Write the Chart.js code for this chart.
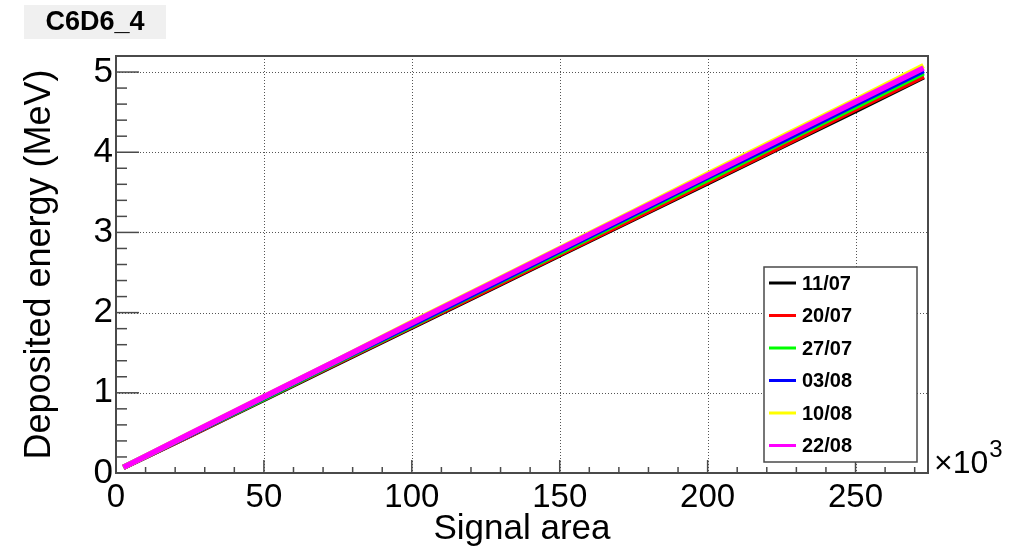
<!DOCTYPE html>
<html>
<head>
<meta charset="utf-8">
<script src="https://cdn.jsdelivr.net/npm/chart.js@4.4.0/dist/chart.umd.min.js"></script>
<style>
  html, body { margin: 0; padding: 0; background: #ffffff; }
  canvas { display: block; }
</style>
</head>
<body>
<canvas id="c" width="1018" height="547"></canvas>
<script>
// Signal area in units of 10^3
const signalArea = [2.5, 25, 50, 75, 100, 125, 150, 175, 200, 225, 250, 273];

// Deposited energy (MeV) for each calibration run
const run_11_07 = [0.07, 0.47, 0.92, 1.37, 1.82, 2.27, 2.72, 3.17, 3.62, 4.07, 4.52, 4.94];
const run_20_07 = [0.07, 0.47, 0.93, 1.38, 1.83, 2.28, 2.73, 3.18, 3.63, 4.08, 4.54, 4.95];
const run_27_07 = [0.07, 0.48, 0.93, 1.39, 1.84, 2.30, 2.75, 3.21, 3.66, 4.12, 4.57, 4.99];
const run_03_08 = [0.07, 0.48, 0.94, 1.40, 1.85, 2.31, 2.77, 3.23, 3.69, 4.14, 4.60, 5.02];
const run_10_08 = [0.07, 0.49, 0.95, 1.41, 1.88, 2.34, 2.80, 3.26, 3.73, 4.19, 4.65, 5.08];
const run_22_08 = [0.07, 0.49, 0.95, 1.41, 1.87, 2.33, 2.79, 3.25, 3.71, 4.17, 4.63, 5.05];

const runLabels = ['11/07', '20/07', '27/07', '03/08', '10/08', '22/08'];
const runValues = [run_11_07, run_20_07, run_27_07, run_03_08, run_10_08, run_22_08];
const runColors = ['#000000', '#ff0000', '#00ff00', '#0000ff', '#ffff00', '#ff00ff'];
// later runs are painted on top of earlier ones (lower order = drawn last)
const drawOrder = [6, 5, 4, 3, 2, 1];

const xStep = 50, xMinorStep = 10, xMax = 274.5;
const yStep = 1, yMinorStep = 0.2, yMax = 5.2;

const FONT = '"Liberation Sans", Arial, Helvetica, sans-serif';
const FRAME = '#4a4a4a';

const datasets = runLabels.map((lab, i) => ({
  label: lab,
  data: signalArea.map((x, j) => ({ x: x, y: runValues[i][j] })),
  borderColor: runColors[i],
  backgroundColor: runColors[i],
  borderWidth: 5.5,
  pointRadius: 0,
  tension: 0,
  fill: false,
  order: drawOrder[i]
}));

// dotted grid under the curves
const gridPlugin = {
  id: 'rootGrid',
  beforeDatasetsDraw(chart) {
    const { ctx, chartArea: a, scales: { x, y } } = chart;
    ctx.save();
    ctx.strokeStyle = '#555555';
    ctx.lineWidth = 1;
    ctx.setLineDash([1, 2]);
    x.ticks.forEach(t => {
      const px = Math.round(x.getPixelForValue(t.value)) + 0.5;
      if (px <= a.left + 1 || px >= a.right - 1) return;
      ctx.beginPath(); ctx.moveTo(px, a.top); ctx.lineTo(px, a.bottom); ctx.stroke();
    });
    y.ticks.forEach(t => {
      const py = Math.round(y.getPixelForValue(t.value)) + 0.5;
      if (py <= a.top + 1 || py >= a.bottom - 1) return;
      ctx.beginPath(); ctx.moveTo(a.left, py); ctx.lineTo(a.right, py); ctx.stroke();
    });
    ctx.restore();
  }
};

// frame, inner tick marks, exponent, title box and legend
const decorPlugin = {
  id: 'rootDecor',
  afterDatasetsDraw(chart) {
    const { ctx, chartArea: a, scales: { x, y } } = chart;
    ctx.save();
    ctx.strokeStyle = FRAME;
    ctx.lineWidth = 1.5;
    ctx.setLineDash([]);

    // y ticks (inside)
    for (let v = 0; v <= yMax + 1e-9; v += yMinorStep) {
      const vv = Math.round(v * 10) / 10;
      const py = y.getPixelForValue(vv);
      if (py < a.top + 1) continue;
      const major = Math.abs(vv - Math.round(vv)) < 1e-6;
      const len = major ? 23 : 11;
      ctx.beginPath(); ctx.moveTo(a.left, py); ctx.lineTo(a.left + len, py); ctx.stroke();
    }
    // x ticks (inside)
    for (let v = 0; v <= xMax; v += xMinorStep) {
      const px = x.getPixelForValue(v);
      const major = v % xStep === 0;
      const len = major ? 13 : 6;
      ctx.beginPath(); ctx.moveTo(px, a.bottom); ctx.lineTo(px, a.bottom - len); ctx.stroke();
    }

    // frame
    ctx.lineWidth = 2;
    ctx.strokeRect(a.left, a.top, a.right - a.left, a.bottom - a.top);

    // axis exponent
    ctx.fillStyle = '#000000';
    ctx.textBaseline = 'alphabetic';
    ctx.textAlign = 'left';
    ctx.font = '32px ' + FONT;
    ctx.fillText('\u00d710', a.right + 6, a.bottom);
    const w = ctx.measureText('\u00d710').width;
    ctx.font = '24px ' + FONT;
    ctx.fillText('3', a.right + 6 + w + 1, a.bottom - 16);

    // title box
    ctx.fillStyle = '#f0f0f0';
    ctx.fillRect(24, 5, 142, 34);
    ctx.fillStyle = '#000000';
    ctx.font = 'bold 27px ' + FONT;
    ctx.textAlign = 'center';
    ctx.textBaseline = 'middle';
    ctx.fillText('C6D6_4', 95, 23);

    // legend
    const lx = 764, ly = 267, lw = 153, lh = 195;
    ctx.fillStyle = '#ffffff';
    ctx.fillRect(lx, ly, lw, lh);
    ctx.strokeStyle = FRAME;
    ctx.lineWidth = 1.5;
    ctx.strokeRect(lx, ly, lw, lh);
    ctx.font = 'bold 20px ' + FONT;
    ctx.textAlign = 'left';
    ctx.textBaseline = 'middle';
    chart.data.datasets.forEach((ds, i) => {
      const ry = ly + 16 + i * 32.5;
      ctx.strokeStyle = ds.borderColor;
      ctx.lineWidth = 3;
      ctx.beginPath(); ctx.moveTo(lx + 5, ry); ctx.lineTo(lx + 32, ry); ctx.stroke();
      ctx.fillStyle = '#000000';
      ctx.fillText(ds.label, lx + 38, ry + 1);
    });
    ctx.restore();
  }
};

new Chart(document.getElementById('c'), {
  type: 'line',
  data: { datasets },
  options: {
    responsive: false,
    animation: false,
    devicePixelRatio: 1,
    layout: { padding: { left: 0, right: 90, top: 56, bottom: 0 } },
    plugins: { legend: { display: false }, tooltip: { enabled: false }, title: { display: false } },
    scales: {
      x: {
        type: 'linear',
        min: 0,
        max: xMax,
        afterFit(s) { s.height = 74; },
        grid: { display: false, drawTicks: false },
        border: { display: false },
        ticks: {
          stepSize: xStep,
          includeBounds: false,
          autoSkip: false,
          maxRotation: 0,
          padding: 5,
          color: '#000000',
          font: { family: FONT, size: 33 },
          callback: v => String(v)
        },
        title: {
          display: true,
          text: 'Signal area',
          color: '#000000',
          font: { family: FONT, size: 35, lineHeight: 1 },
          padding: { top: 0, bottom: 0 }
        }
      },
      y: {
        type: 'linear',
        min: 0,
        max: yMax,
        afterFit(s) { s.width = 116; },
        grid: { display: false, drawTicks: false },
        border: { display: false },
        ticks: {
          stepSize: yStep,
          includeBounds: false,
          autoSkip: false,
          padding: 3,
          color: '#000000',
          font: { family: FONT, size: 35 },
          callback: v => String(v)
        },
        title: {
          display: true,
          text: 'Deposited energy (MeV)',
          color: '#000000',
          font: { family: FONT, size: 36, lineHeight: 1 },
          padding: { top: 22, bottom: 0 }
        }
      }
    }
  },
  plugins: [gridPlugin, decorPlugin]
});
</script>
</body>
</html>
